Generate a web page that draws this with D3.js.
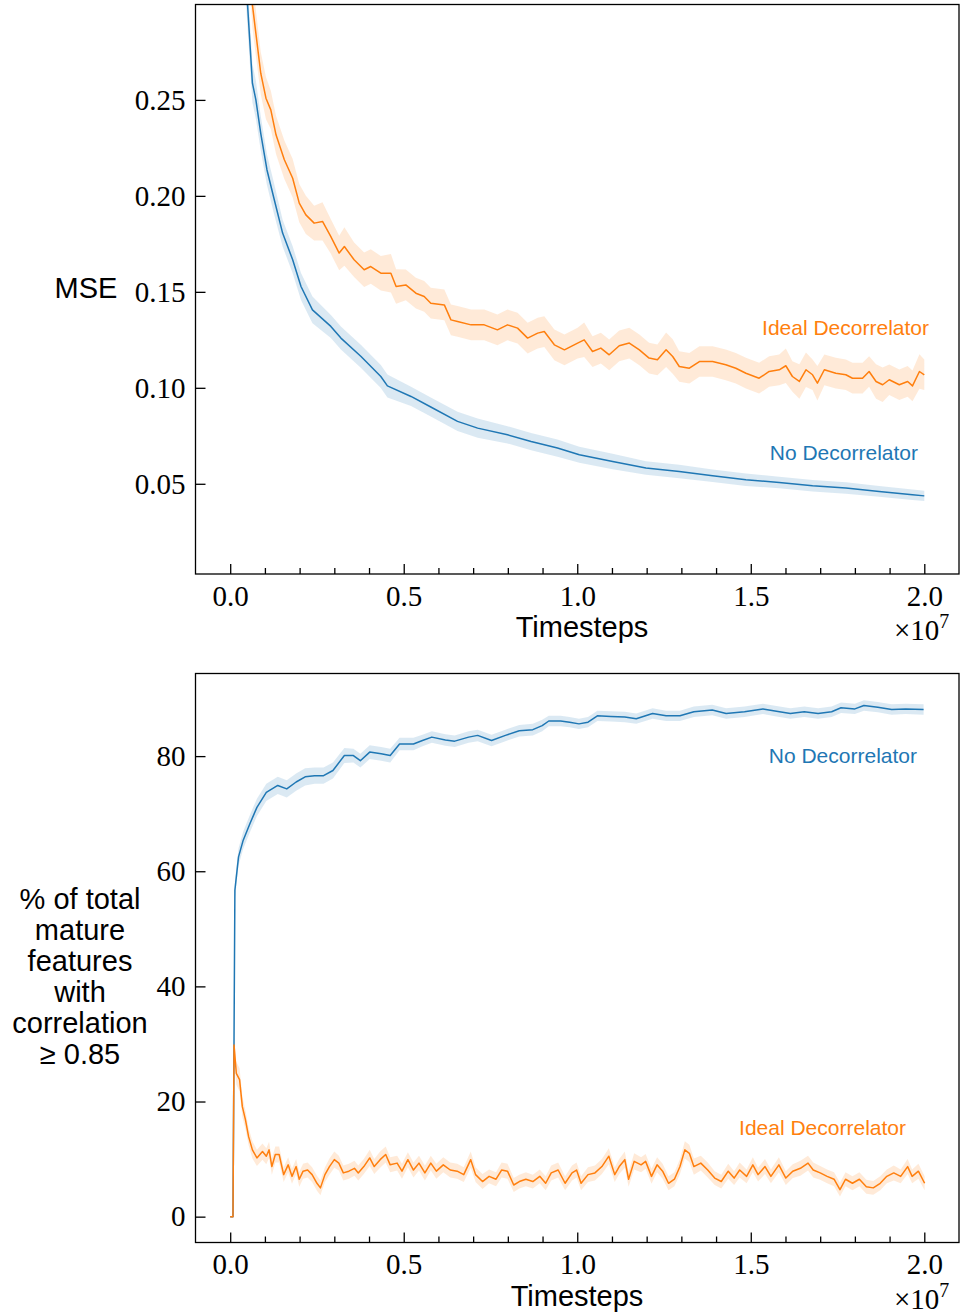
<!DOCTYPE html>
<html>
<head>
<meta charset="utf-8">
<script src="https://cdn.jsdelivr.net/npm/d3@7"></script>
<style>
  body { margin: 0; background: #fff; }
  svg { display: block; }
</style>
</head>
<body>
<div id="chart"></div>
<script>
// timesteps are in units of 1e7, each row is [t, mean, sd]
const mseNoDecor = [
  [0.01, 0.46, 0.02], [0.03, 0.36, 0.015], [0.05, 0.2995, 0.012], [0.064, 0.2587, 0.010],
  [0.074, 0.25, 0.010], [0.088, 0.2326, 0.009], [0.106, 0.2135, 0.008], [0.127, 0.198, 0.008],
  [0.151, 0.1806, 0.007], [0.18, 0.1667, 0.007], [0.204, 0.1528, 0.007], [0.237, 0.1406, 0.007],
  [0.29, 0.132, 0.006], [0.319, 0.1259, 0.006], [0.377, 0.1163, 0.006], [0.434, 0.1059, 0.006],
  [0.453, 0.101, 0.006], [0.521, 0.0955, 0.005], [0.578, 0.09, 0.005], [0.655, 0.0825, 0.005],
  [0.713, 0.079, 0.005], [0.799, 0.0755, 0.0045], [0.867, 0.072, 0.0045], [0.943, 0.0686, 0.0045],
  [1.006, 0.0651, 0.0042], [1.102, 0.0616, 0.004], [1.198, 0.0582, 0.0035], [1.294, 0.0564, 0.0035],
  [1.39, 0.0542, 0.0033], [1.486, 0.0521, 0.0032], [1.582, 0.0507, 0.003], [1.678, 0.049, 0.003],
  [1.774, 0.0478, 0.003], [1.87, 0.046, 0.0028], [1.966, 0.0443, 0.0027], [2.0, 0.0437, 0.0027]
];

const mseIdeal = [
  [0.01, 0.55, 0.02], [0.04, 0.37, 0.015], [0.064, 0.2995, 0.012], [0.074, 0.2847, 0.012],
  [0.088, 0.2639, 0.011], [0.103, 0.2509, 0.011], [0.117, 0.2448, 0.010], [0.132, 0.2318, 0.010],
  [0.156, 0.2188, 0.010], [0.18, 0.2092, 0.010], [0.199, 0.1962, 0.010], [0.218, 0.1901, 0.010],
  [0.242, 0.1858, 0.009], [0.266, 0.1867, 0.010], [0.29, 0.1788, 0.009], [0.314, 0.1702, 0.009],
  [0.329, 0.1736, 0.010], [0.357, 0.1667, 0.009], [0.386, 0.1615, 0.009], [0.405, 0.1632, 0.009],
  [0.434, 0.1597, 0.009], [0.463, 0.1597, 0.010], [0.478, 0.1528, 0.009], [0.506, 0.1536, 0.008],
  [0.535, 0.1493, 0.008], [0.559, 0.1476, 0.008], [0.578, 0.1441, 0.008], [0.617, 0.1432, 0.008],
  [0.636, 0.1354, 0.008], [0.655, 0.1346, 0.008], [0.694, 0.1328, 0.008], [0.732, 0.1328, 0.008],
  [0.77, 0.1302, 0.008], [0.799, 0.1328, 0.008], [0.828, 0.1311, 0.008], [0.857, 0.1259, 0.008],
  [0.886, 0.1285, 0.008], [0.905, 0.1293, 0.008], [0.934, 0.1224, 0.008], [0.963, 0.1198, 0.008],
  [1.001, 0.1233, 0.008], [1.02, 0.125, 0.009], [1.044, 0.1189, 0.008], [1.068, 0.1207, 0.008],
  [1.092, 0.1172, 0.008], [1.121, 0.1219, 0.008], [1.15, 0.1233, 0.008], [1.179, 0.1198, 0.008],
  [1.207, 0.1155, 0.008], [1.231, 0.1146, 0.008], [1.256, 0.1198, 0.009], [1.275, 0.1163, 0.009],
  [1.294, 0.1111, 0.008], [1.323, 0.1102, 0.008], [1.352, 0.1137, 0.008], [1.39, 0.1137, 0.008],
  [1.428, 0.112, 0.008], [1.457, 0.1102, 0.008], [1.486, 0.1076, 0.008], [1.524, 0.105, 0.008],
  [1.553, 0.1085, 0.008], [1.582, 0.1094, 0.008], [1.601, 0.1115, 0.009], [1.62, 0.1059, 0.008],
  [1.64, 0.1033, 0.009], [1.659, 0.1094, 0.009], [1.678, 0.1068, 0.008], [1.692, 0.1024, 0.009],
  [1.712, 0.1094, 0.008], [1.745, 0.1076, 0.008], [1.774, 0.1068, 0.008], [1.793, 0.105, 0.008],
  [1.822, 0.105, 0.008], [1.841, 0.1085, 0.008], [1.861, 0.1033, 0.009], [1.88, 0.1016, 0.009],
  [1.899, 0.1042, 0.008], [1.928, 0.1016, 0.008], [1.952, 0.1033, 0.008], [1.966, 0.101, 0.008],
  [1.986, 0.1085, 0.009], [2.0, 0.1068, 0.008]
];

const corrNoDecor = [
  [0, 0, 0], [0.008, 0, 0], [0.0135, 56.7, 1.5], [0.024, 62.5, 1.5], [0.0375, 65.4, 1.5],
  [0.057, 68.3, 1.5], [0.077, 71.1, 1.5], [0.104, 73.7, 1.5], [0.137, 74.9, 1.5], [0.163, 74.3, 1.5],
  [0.19, 75.5, 1.5], [0.216, 76.4, 1.5], [0.243, 76.6, 1.4], [0.269, 76.6, 1.4], [0.296, 77.5, 1.4],
  [0.329, 80.1, 1.3], [0.355, 80.1, 1.2], [0.375, 79.2, 1.2], [0.402, 80.7, 1.2], [0.435, 80.4, 1.2],
  [0.461, 80.1, 1.2], [0.488, 82.1, 1.1], [0.528, 82.1, 1.1], [0.554, 82.7, 1.0], [0.581, 83.3, 1.0],
  [0.62, 82.8, 1.0], [0.647, 82.6, 1.0], [0.687, 83.3, 1.0], [0.713, 83.6, 1.0], [0.753, 82.7, 1.0],
  [0.793, 83.6, 1.0], [0.833, 84.4, 1.0], [0.872, 84.6, 1.0], [0.899, 85.3, 1.0], [0.918, 86.1, 0.9],
  [0.952, 86.1, 0.9], [0.978, 85.9, 0.9], [1.005, 85.6, 0.9], [1.031, 85.9, 0.9], [1.058, 87.0, 0.9],
  [1.097, 86.9, 0.9], [1.137, 86.8, 0.9], [1.17, 86.5, 0.9], [1.217, 87.4, 0.9], [1.256, 87.0, 0.9],
  [1.296, 87.0, 0.9], [1.336, 87.7, 0.9], [1.389, 88.0, 0.9], [1.429, 87.4, 0.9], [1.482, 87.7, 0.9],
  [1.535, 88.2, 0.9], [1.574, 87.8, 0.9], [1.614, 87.4, 0.9], [1.654, 87.7, 0.9], [1.694, 87.4, 0.9],
  [1.733, 87.7, 0.9], [1.76, 88.4, 0.9], [1.8, 88.2, 0.9], [1.826, 88.8, 0.9], [1.866, 88.5, 0.9],
  [1.906, 88.1, 0.9], [1.946, 88.2, 0.9], [1.998, 88.1, 0.9]
];

const corrIdeal = [
  [0, 0, 0], [0.008, 0, 0], [0.011, 29.8, 1.5], [0.0176, 24.9, 2.0], [0.027, 23.8, 2.0],
  [0.035, 19.1, 1.8], [0.044, 16.8, 1.6], [0.053, 13.9, 1.5], [0.064, 11.6, 1.5], [0.077, 10.2, 1.4],
  [0.093, 11.3, 1.4], [0.104, 10.5, 1.4], [0.112, 11.6, 1.4], [0.12, 8.7, 1.4], [0.13, 10.8, 1.4],
  [0.141, 10.8, 1.4], [0.154, 7.3, 1.3], [0.167, 9.0, 1.3], [0.178, 7.0, 1.3], [0.19, 8.7, 1.3],
  [0.199, 6.5, 1.3], [0.21, 7.9, 1.3], [0.223, 8.1, 1.3], [0.236, 7.3, 1.3], [0.25, 5.8, 1.3],
  [0.26, 5.0, 1.3], [0.273, 7.3, 1.3], [0.286, 8.7, 1.4], [0.3, 9.9, 1.4], [0.313, 9.3, 1.3],
  [0.326, 7.6, 1.3], [0.342, 7.9, 1.3], [0.358, 8.4, 1.3], [0.369, 7.6, 1.3], [0.385, 8.7, 1.3],
  [0.402, 10.2, 1.4], [0.415, 8.7, 1.3], [0.432, 9.9, 1.4], [0.448, 10.8, 1.4], [0.461, 9.0, 1.3],
  [0.481, 9.3, 1.3], [0.495, 7.9, 1.3], [0.512, 9.9, 1.3], [0.528, 8.1, 1.3], [0.544, 9.3, 1.3],
  [0.561, 7.6, 1.3], [0.578, 9.3, 1.3], [0.594, 7.9, 1.3], [0.614, 9.0, 1.3], [0.634, 8.1, 1.3],
  [0.654, 7.9, 1.3], [0.673, 7.3, 1.3], [0.693, 9.9, 1.4], [0.707, 7.3, 1.3], [0.727, 6.1, 1.3],
  [0.746, 7.0, 1.2], [0.766, 6.5, 1.2], [0.782, 8.1, 1.3], [0.799, 7.9, 1.3], [0.817, 5.5, 1.2],
  [0.833, 6.1, 1.2], [0.852, 6.5, 1.2], [0.872, 6.1, 1.2], [0.892, 7.0, 1.2], [0.909, 5.8, 1.2],
  [0.925, 7.6, 1.3], [0.945, 8.1, 1.3], [0.965, 5.8, 1.2], [0.985, 7.6, 1.3], [0.998, 8.1, 1.3],
  [1.011, 5.8, 1.2], [1.031, 7.3, 1.3], [1.051, 7.6, 1.3], [1.071, 8.7, 1.3], [1.091, 10.5, 1.4],
  [1.108, 7.3, 1.3], [1.121, 8.7, 1.3], [1.137, 9.9, 1.4], [1.148, 6.5, 1.3], [1.164, 9.6, 1.4],
  [1.184, 9.0, 1.3], [1.197, 9.6, 1.3], [1.214, 7.0, 1.3], [1.23, 9.0, 1.3], [1.246, 7.9, 1.3],
  [1.263, 5.8, 1.2], [1.28, 6.5, 1.2], [1.296, 8.7, 1.3], [1.31, 11.6, 1.5], [1.323, 11.0, 1.5],
  [1.336, 8.7, 1.4], [1.356, 9.3, 1.3], [1.376, 8.1, 1.3], [1.396, 6.7, 1.2], [1.415, 6.1, 1.2],
  [1.435, 7.9, 1.3], [1.452, 6.7, 1.2], [1.468, 8.1, 1.3], [1.488, 7.0, 1.2], [1.506, 9.0, 1.3],
  [1.521, 7.3, 1.2], [1.541, 8.7, 1.3], [1.558, 7.0, 1.2], [1.581, 9.0, 1.3], [1.601, 6.7, 1.2],
  [1.621, 7.9, 1.2], [1.643, 8.4, 1.3], [1.665, 9.3, 1.3], [1.68, 8.1, 1.3], [1.7, 7.6, 1.2],
  [1.72, 7.0, 1.2], [1.74, 6.5, 1.2], [1.757, 4.7, 1.2], [1.773, 6.5, 1.2], [1.793, 5.8, 1.2],
  [1.813, 6.5, 1.2], [1.833, 5.2, 1.2], [1.853, 5.0, 1.2], [1.873, 5.8, 1.2], [1.892, 7.0, 1.2],
  [1.912, 7.6, 1.3], [1.932, 7.0, 1.2], [1.952, 8.7, 1.3], [1.965, 7.0, 1.2], [1.983, 7.9, 1.3],
  [2.001, 5.8, 1.2]
];

const xTicks = [0, 0.5, 1.0, 1.5, 2.0];
const xMinorTicks = [0.1, 0.2, 0.3, 0.4, 0.6, 0.7, 0.8, 0.9, 1.1, 1.2, 1.3, 1.4, 1.6, 1.7, 1.8, 1.9];
const mseTicks = [0.05, 0.10, 0.15, 0.20, 0.25];
const corrTicks = [0, 20, 40, 60, 80];
const seriesNames = ["No Decorrelator", "Ideal Decorrelator"];

const BLUE = "#1f77b4", ORANGE = "#ff7f0e";
const SERIF = "'Liberation Serif', 'Times New Roman', serif";
const SANS = "'Liberation Sans', Arial, sans-serif";

const W = 960, H = 1314;
const svg = d3.select("#chart").append("svg").attr("width", W).attr("height", H);

function panel(opts) {
  const left = 195.5, right = 959;
  const x = d3.scaleLinear().domain([-0.1, 2.1]).range([left, right]);
  const y = d3.scaleLinear().domain(opts.yDomain).range([opts.bottom, opts.top]);
  const g = svg.append("g");

  const clipId = "clip-" + opts.id;
  g.append("clipPath").attr("id", clipId)
    .append("rect").attr("x", left).attr("y", opts.top)
    .attr("width", right - left).attr("height", opts.bottom - opts.top);

  const plot = g.append("g").attr("clip-path", `url(#${clipId})`);
  const area = d3.area().x(d => x(d[0])).y0(d => y(d[1] - d[2])).y1(d => y(d[1] + d[2]));
  const line = d3.line().x(d => x(d[0])).y(d => y(d[1]));

  opts.series.forEach(s => {
    plot.append("path").datum(s.data).attr("d", area)
      .attr("fill", s.color).attr("fill-opacity", 0.16).attr("stroke", "none");
  });
  opts.series.forEach(s => {
    plot.append("path").datum(s.data).attr("d", line)
      .attr("fill", "none").attr("stroke", s.color).attr("stroke-width", 1.5)
      .attr("stroke-linejoin", "round");
  });

  // x axis: major + minor ticks pointing inward
  const xa = g.append("g").attr("transform", `translate(0,${opts.bottom})`)
    .call(d3.axisBottom(x).tickValues(xTicks).tickFormat(d3.format(".1f"))
      .tickSizeInner(-10).tickSizeOuter(0).tickPadding(11));
  g.append("g").attr("transform", `translate(0,${opts.bottom})`)
    .call(d3.axisBottom(x).tickValues(xMinorTicks).tickFormat("")
      .tickSizeInner(-6).tickSizeOuter(0));

  const ya = g.append("g").attr("transform", `translate(${left},0)`)
    .call(d3.axisLeft(y).tickValues(opts.yTicks).tickFormat(opts.yFormat)
      .tickSizeInner(-10).tickSizeOuter(0).tickPadding(10));

  g.selectAll(".domain").remove();
  g.selectAll(".tick line").attr("stroke", "#000").attr("stroke-width", 1.3);
  g.selectAll(".tick text").attr("font-family", SERIF).attr("font-size", 29).attr("fill", "#000");

  g.append("rect").attr("x", left).attr("y", opts.top)
    .attr("width", right - left).attr("height", opts.bottom - opts.top)
    .attr("fill", "none").attr("stroke", "#000").attr("stroke-width", 1.3);

  // x label and multiplier
  g.append("text").attr("x", opts.xLabelX).attr("y", opts.bottom + 63)
    .attr("text-anchor", "middle").attr("font-family", SANS).attr("font-size", 29)
    .text("Timesteps");
  const mult = g.append("text").attr("x", 894).attr("y", opts.bottom + 66)
    .attr("font-family", SERIF).attr("font-size", 29);
  mult.append("tspan").text("×10");
  mult.append("tspan").attr("font-size", 20).attr("dy", -12).text("7");

  // y label (horizontal, possibly multi-line)
  const yl = g.append("text").attr("text-anchor", "middle")
    .attr("font-family", SANS).attr("font-size", 29);
  opts.yLabel.forEach((t, i) => {
    yl.append("tspan").attr("x", opts.yLabelX).attr("y", opts.yLabelY + i * 31).text(t);
  });

  // inline series labels
  opts.series.forEach(s => {
    g.append("text").attr("x", s.labelX).attr("y", s.labelY)
      .attr("text-anchor", "end").attr("font-family", SANS).attr("font-size", 21)
      .attr("fill", s.color).text(s.name);
  });
}

panel({
  id: "mse", top: 4.5, bottom: 574, yDomain: [0.003, 0.2997],
  yTicks: mseTicks, yFormat: d3.format(".2f"),
  yLabel: ["MSE"], yLabelX: 86, yLabelY: 298, xLabelX: 582,
  series: [
    { name: seriesNames[0], data: mseNoDecor, color: BLUE, labelX: 918, labelY: 460 },
    { name: seriesNames[1], data: mseIdeal, color: ORANGE, labelX: 929, labelY: 335 }
  ]
});

panel({
  id: "corr", top: 673.5, bottom: 1242.5, yDomain: [-4.49, 94.35],
  yTicks: corrTicks, yFormat: d3.format("d"),
  yLabel: ["% of total", "mature", "features", "with", "correlation", "≥ 0.85"],
  yLabelX: 80, yLabelY: 909, xLabelX: 577,
  series: [
    { name: seriesNames[0], data: corrNoDecor, color: BLUE, labelX: 917, labelY: 763 },
    { name: seriesNames[1], data: corrIdeal, color: ORANGE, labelX: 906, labelY: 1135 }
  ]
});
</script>
</body>
</html>
